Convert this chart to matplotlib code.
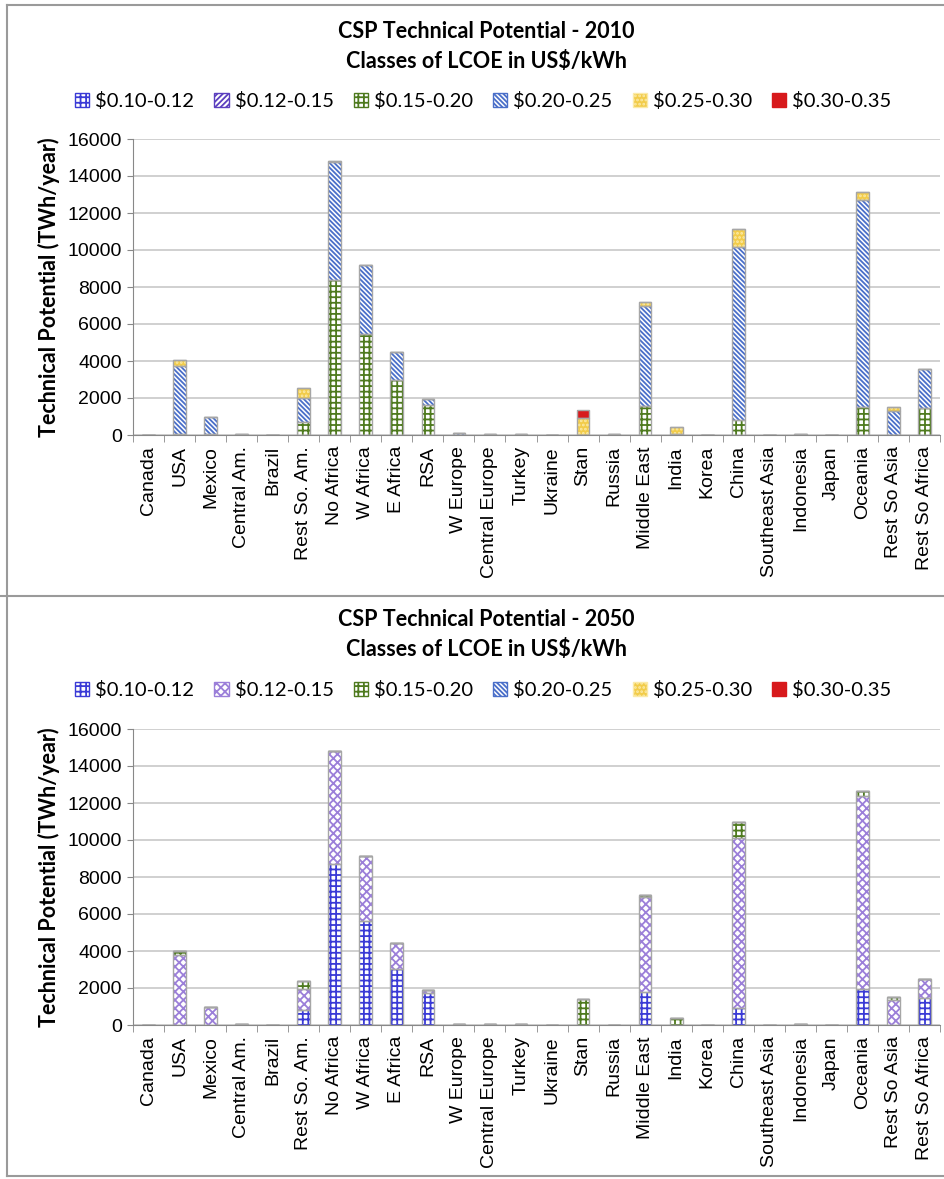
import matplotlib.pyplot as plt
import matplotlib.patches as mpatches
from matplotlib.lines import Line2D
import numpy as np

# --- Data (TWh/year) ---
regions = ['Canada', 'USA', 'Mexico', 'Central Am.', 'Brazil', 'Rest So. Am.',
           'No Africa', 'W Africa', 'E Africa', 'RSA', 'W Europe', 'Central Europe',
           'Turkey', 'Ukraine', 'Stan', 'Russia', 'Middle East', 'India', 'Korea',
           'China', 'Southeast Asia', 'Indonesia', 'Japan', 'Oceania',
           'Rest So Asia', 'Rest So Africa']
classes = [r'\$0.10-0.12', r'\$0.12-0.15', r'\$0.15-0.20',
           r'\$0.20-0.25', r'\$0.25-0.30', r'\$0.30-0.35']
yticks = [0, 2000, 4000, 6000, 8000, 10000, 12000, 14000, 16000]

# 2010
p2010_010_012 = [0] * 26
p2010_012_015 = [0] * 26
p2010_015_020 = [0, 50, 60, 0, 0, 720, 8400, 5450, 2950, 1600, 0, 0, 0, 0,
                 0, 0, 1550, 0, 0, 800, 0, 0, 0, 1500, 0, 1480]
p2010_020_025 = [0, 3700, 930, 30, 0, 1300, 6350, 3750, 1550, 350, 100, 30, 50, 0,
                 0, 30, 5450, 80, 0, 9350, 0, 30, 0, 11200, 1300, 2100]
p2010_025_030 = [0, 300, 0, 0, 0, 500, 50, 0, 0, 0, 0, 0, 0, 0,
                 900, 0, 200, 370, 0, 1000, 0, 0, 0, 420, 230, 0]
p2010_030_035 = [0, 0, 0, 0, 0, 0, 0, 0, 0, 0, 0, 0, 0, 0,
                 450, 0, 0, 0, 0, 0, 0, 0, 0, 0, 0, 0]

# 2050
p2050_010_012 = [0, 0, 0, 0, 0, 800, 8700, 5600, 3050, 1730, 0, 0, 0, 0,
                 0, 0, 1800, 0, 0, 900, 0, 0, 0, 1950, 0, 1450]
p2050_012_015 = [20, 3800, 1000, 30, 0, 1150, 6100, 3550, 1380, 150, 60, 30, 30, 0,
                 0, 0, 5100, 0, 0, 9200, 0, 30, 0, 10450, 1350, 1030]
p2050_015_020 = [0, 200, 0, 0, 0, 450, 0, 0, 0, 0, 0, 0, 0, 0,
                 1400, 0, 150, 400, 0, 850, 0, 0, 0, 250, 150, 0]
p2050_020_025 = [0] * 26
p2050_025_030 = [0] * 26
p2050_030_035 = [0] * 26

# --- Styles: (face, hatch colour, hatch) ---
STYLES_2010 = [
    ('white', '#3a3ad6', '+++'),
    ('white', '#5b3fbf', '//////'),
    ('white', '#4e7a1e', '+++'),
    ('white', '#4a6fc9', '\\\\\\\\\\\\\\'),
    ('#f2cc4a', '#fbeaa8', '....'),
    ('#d7191c', '#d7191c', None),
]
STYLES_2050 = list(STYLES_2010)
STYLES_2050[1] = ('white', '#9b7fd9', 'xxxx')

OUTLINE = '#a6a6a6'
GRID = '#c8c8c8'
TITLE_FONT = ['Lato', 'DejaVu Sans']
TEXT_FONT = ['Liberation Sans', 'DejaVu Sans']

plt.rcParams['hatch.linewidth'] = 1.3

W, H = 944, 1179


def fig_rect(left, top, right, bottom):
    return [left / W, 1 - bottom / H, (right - left) / W, (bottom - top) / H]


def draw_panel(fig, ax, year, series, styles, title_y, legend_y):
    x = np.arange(len(regions))
    bottom = np.zeros(len(regions))
    for vals, (face, hcol, hatch) in zip(series, styles):
        vals = np.array(vals, dtype=float)
        ax.bar(x, vals, width=0.41, bottom=bottom, color=face,
               edgecolor=hcol, hatch=hatch, linewidth=0, zorder=2)
        bottom += vals
    # grey outline around each stacked segment
    bottom = np.zeros(len(regions))
    for vals in series:
        vals = np.array(vals, dtype=float)
        ax.bar(x, vals, width=0.41, bottom=bottom, facecolor='none',
               edgecolor=OUTLINE, linewidth=1.0, zorder=3)
        bottom += vals

    ax.set_xlim(-0.5, len(regions) - 0.5)
    ax.set_ylim(0, 16000)
    ax.set_yticks(yticks)
    ax.set_yticklabels([str(v) for v in yticks], fontsize=14, family=TEXT_FONT)
    ax.set_xticks(x)
    ax.set_xticklabels(regions, rotation=90, fontsize=14, family=TEXT_FONT)
    ax.tick_params(axis='x', length=0, pad=8)
    ax.tick_params(axis='y', length=4, color='#888888', pad=4)
    ax.set_xticks(np.arange(-0.5, len(regions), 1), minor=True)
    ax.tick_params(axis='x', which='minor', length=5, color='#888888')
    ax.grid(axis='y', color=GRID, linewidth=1.2, zorder=0)
    ax.set_axisbelow(True)
    for s in ['top', 'right']:
        ax.spines[s].set_visible(False)
    ax.spines['left'].set_color('#888888')
    ax.spines['bottom'].set_color('#888888')
    ax.set_ylabel('Technical Potential (TWh/year)', fontsize=15.5,
                  fontweight='bold', family=TITLE_FONT, labelpad=5)

    fig.text(0.515, 1 - title_y / H, 'CSP Technical Potential - ' + year,
             ha='center', va='center', fontsize=15.5, fontweight='bold', family=TITLE_FONT)
    fig.text(0.515, 1 - (title_y + 30) / H, r'Classes of LCOE in US\$/kWh',
             ha='center', va='center', fontsize=15.5, fontweight='bold', family=TITLE_FONT)

    handles = [mpatches.Patch(facecolor=f, edgecolor=c, hatch=h, label=l)
               for (f, c, h), l in zip(styles, classes)]
    fig.legend(handles=handles, loc='center', bbox_to_anchor=(0.512, 1 - legend_y / H),
               ncol=6, frameon=False, handlelength=0.7, handleheight=0.7,
               handletextpad=0.3, columnspacing=1.0,
               prop={'family': TITLE_FONT, 'size': 14.5})


fig = plt.figure(figsize=(W / 100, H / 100), dpi=100)

ax1 = fig.add_axes(fig_rect(133, 139, 940, 435))
draw_panel(fig, ax1, '2010',
           [p2010_010_012, p2010_012_015, p2010_015_020,
            p2010_020_025, p2010_025_030, p2010_030_035],
           STYLES_2010, 31, 101)

ax2 = fig.add_axes(fig_rect(133, 729, 940, 1025))
draw_panel(fig, ax2, '2050',
           [p2050_010_012, p2050_012_015, p2050_015_020,
            p2050_020_025, p2050_025_030, p2050_030_035],
           STYLES_2050, 620, 690)

# panel borders
for xs, ys in [([7, 7], [5, 1176]), ([7, 944], [5, 5]),
               ([0, 944], [596, 596]), ([7, 944], [1176, 1176])]:
    fig.add_artist(Line2D([v / W for v in xs], [1 - v / H for v in ys],
                          color='#9a9a9a', linewidth=1.5))

fig.savefig('out.png', dpi=100)
